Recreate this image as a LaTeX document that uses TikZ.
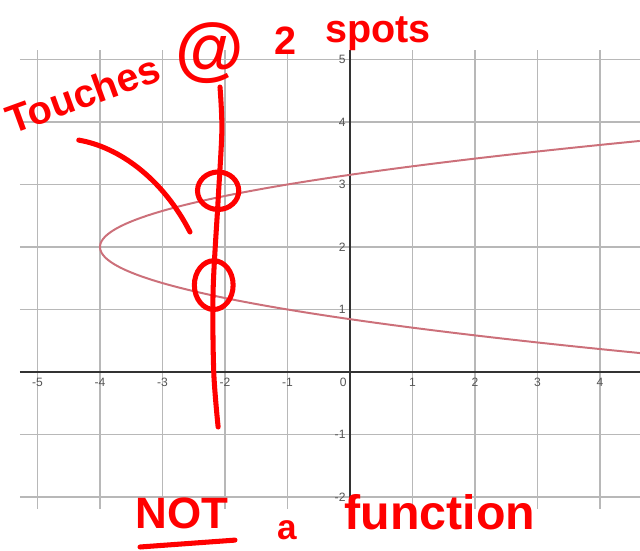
\documentclass[tikz,border=0pt]{standalone}
\usepackage{fontspec}
\setmainfont{Liberation Sans}
\definecolor{curvecol}{RGB}{204,112,122}
\definecolor{ticklab}{RGB}{85,85,85}
\tikzset{
  gridline/.style={black!28, line width=0.6pt},
  axisline/.style={black!80, line width=0.7pt},
  ticknum/.style={ticklab, font=\fontsize{5.5}{6}\selectfont, inner sep=1pt},
  pen/.style={red, line width=2.3pt, line cap=round, line join=round},
  scrawl/.style={red, font=\bfseries\fontsize{#1}{#1}\selectfont, inner sep=0pt},
}
\begin{document}
\begin{tikzpicture}
\useasboundingbox (-5.6,-2.864) rectangle (4.64,5.952);
% grid
 \foreach \pos in {-5,...,4}
    \draw[gridline] (\pos,-2.19) -- (\pos,5.15);
 \foreach \pos in {-2,...,5}
    \draw[gridline] (-5.28,\pos) -- (4.64,\pos);
\draw[axisline] (-5.28,0) -- (4.64,0);
\draw[axisline] (0,-2.19) -- (0,5.15);
 \foreach \pos in {-5,-4,-3,-2,-1,1,2,3,4}
    \node[ticknum] (xl\pos) at (\pos,-0.17) {\pos};
 \foreach \pos in {-2,-1,1,2,3,4,5}
    \node[ticknum, anchor=east] (yl\pos) at (-0.03,\pos) {\pos};
\node[ticknum] (origin) at (-0.11,-0.17) {0};
% x = 3(y-2)^2 - 4
\draw[curvecol, line width=0.9pt, domain=0.303:3.697, samples=120, smooth]
    plot ({3*(\x-2)^2-4},\x);
% vertical line test
\draw[pen] plot[smooth] coordinates {(-2.08,4.56) (-2.05,3.87) (-2.11,2.75) (-2.19,1.31) (-2.18,0) (-2.11,-0.88)};
\draw[pen] (-2.11,2.90) ellipse [x radius=0.33, y radius=0.3];
\draw[pen] (-2.18,1.39) ellipse [x radius=0.31, y radius=0.39];
\draw[pen] (-4.34,3.71) .. controls (-3.7,3.6) and (-3.0,3.1) .. (-2.56,2.24);
% notes
\node[scrawl=18pt, rotate=20] (touches) at (-4.27,4.45) {Touches};
\node[scrawl=32pt] (at) at (-2.24,5.1) {@};
\node[scrawl=18pt] (two) at (-1.04,5.3) {2};
\node[scrawl=18pt] (spots) at (0.45,5.42) {spots};
\node[scrawl=20pt] (nots) at (-2.69,-2.26) {NOT};
\draw[pen] (-3.36,-2.8) -- (-1.84,-2.69);
\node[scrawl=16pt] (a) at (-1.01,-2.53) {a};
\node[scrawl=22pt] (func) at (1.44,-2.24) {function};
\end{tikzpicture}
\end{document}
